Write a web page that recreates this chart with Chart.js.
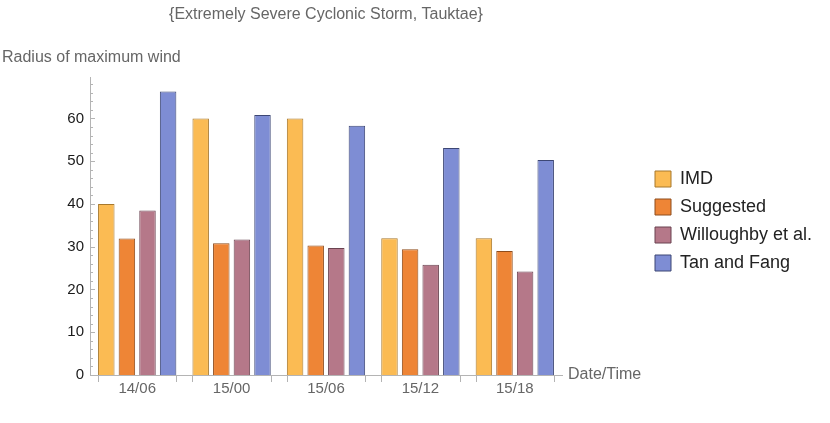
<!DOCTYPE html>
<html lang="en">
<head>
<meta charset="UTF-8">
<title>Tauktae</title>
<style>html,body{margin:0;padding:0;background:#fff}</style>
</head>
<body>
<canvas id="myChart" width="830" height="423"></canvas>
<script src="https://cdn.jsdelivr.net/npm/chart.js"></script>
<script>
// data
const times = ['14/06', '15/00', '15/06', '15/12', '15/18'];
const imd = [40, 60, 60, 32, 32];
const suggested = [31.9, 30.8, 30.3, 29.4, 29.0];
const willoughby = [38.5, 31.7, 29.7, 25.8, 24.2];
const tanFang = [66.3, 60.8, 58.3, 53.1, 50.3];
const yMax = 69.7;

const FONT = "'Liberation Sans', Arial, sans-serif";

// titles, Mathematica-style ticks, legend nudge
const extras = {
  id: 'extras',
  beforeDraw(chart) {
    const lg = chart.legend;
    const dx = chart.chartArea.right + 83 - lg.left;
    lg.left += dx; lg.right += dx;
    lg.top = chart.chartArea.top - 5;
    lg.bottom = chart.chartArea.bottom - 5;
  },
  afterDraw(chart) {
    const ctx = chart.ctx, area = chart.chartArea;
    const y = chart.scales.y;
    ctx.save();
    ctx.strokeStyle = '#b4b4b4';
    ctx.lineWidth = 1;
    // y ticks drawn inward
    for (let v = 0; v <= yMax; v += 2) {
      const py = Math.round(y.getPixelForValue(v)) + 0.5;
      const len = v % 10 === 0 ? 5 : 3;
      ctx.beginPath();
      ctx.moveTo(area.left, py);
      ctx.lineTo(area.left + len, py);
      ctx.stroke();
    }
    // x ticks at outer edges of each group
    const first = chart.getDatasetMeta(0).data;
    const last = chart.getDatasetMeta(3).data;
    times.forEach((t, i) => {
      const a = first[i], b = last[i];
      [a.x - a.width / 2, b.x + b.width / 2].forEach(px => {
        px = Math.round(px) + 0.5;
        ctx.beginPath();
        ctx.moveTo(px, area.bottom);
        ctx.lineTo(px, area.bottom + 7);
        ctx.stroke();
      });
    });
    ctx.fillStyle = '#666';
    ctx.font = '16px ' + FONT;
    ctx.textBaseline = 'middle';
    ctx.textAlign = 'center';
    ctx.fillText('{Extremely Severe Cyclonic Storm, Tauktae}', (area.left + area.right) / 2, 15);
    ctx.textAlign = 'left';
    ctx.fillText('Radius of maximum wind', 2, 58);
    ctx.fillText('Date/Time', area.right + 6, area.bottom);
    ctx.restore();
  }
};

const ctx = document.getElementById('myChart');
new Chart(ctx, {
  type: 'bar',
  data: {
    labels: times,
    datasets: [
      { label: 'IMD', data: imd, backgroundColor: '#fbbb53', borderColor: '#a7782c' },
      { label: 'Suggested', data: suggested, backgroundColor: '#ee8536', borderColor: '#8e4c1c' },
      { label: 'Willoughby et al.', data: willoughby, backgroundColor: '#b57889', borderColor: '#6a4350' },
      { label: 'Tan and Fang', data: tanFang, backgroundColor: '#7e8dd4', borderColor: '#3d4775' }
    ]
  },
  options: {
    responsive: false,
    animation: false,
    layout: { padding: { top: 77, left: 0, right: 0, bottom: 0 } },
    datasets: {
      bar: { borderWidth: 1, categoryPercentage: 0.873, barPercentage: 0.8 }
    },
    plugins: {
      tooltip: { enabled: false },
      legend: {
        position: 'right',
        fullSize: false,
        align: 'center',
        labels: {
          boxWidth: 16, boxHeight: 16, padding: 10,
          color: '#222',
          font: { family: FONT, size: 18 }
        }
      }
    },
    scales: {
      x: {
        grid: { display: false, drawTicks: false },
        border: { display: true, color: '#b4b4b4' },
        ticks: { color: '#666', padding: 5, font: { family: FONT, size: 15 } },
        afterFit(s) { s.height = 48; }
      },
      y: {
        min: 0, max: yMax,
        grid: { display: false, drawTicks: false },
        border: { display: true, color: '#b4b4b4' },
        ticks: {
          stepSize: 10,
          color: '#1a1a1a',
          padding: 6,
          font: { family: FONT, size: 15 },
          callback: v => (v % 10 === 0 ? v : '')
        },
        afterFit(s) { s.width = 90; }
      },
      // invisible spacer outside the legend so the plot ends where the reference does
      pad: {
        position: 'right',
        weight: 2000,
        display: false,
        afterFit(s) { s.width = Math.max(0, 268 - (s.chart.legend ? s.chart.legend.width : 0)); }
      }
    }
  },
  plugins: [extras]
});
</script>
</body>
</html>
